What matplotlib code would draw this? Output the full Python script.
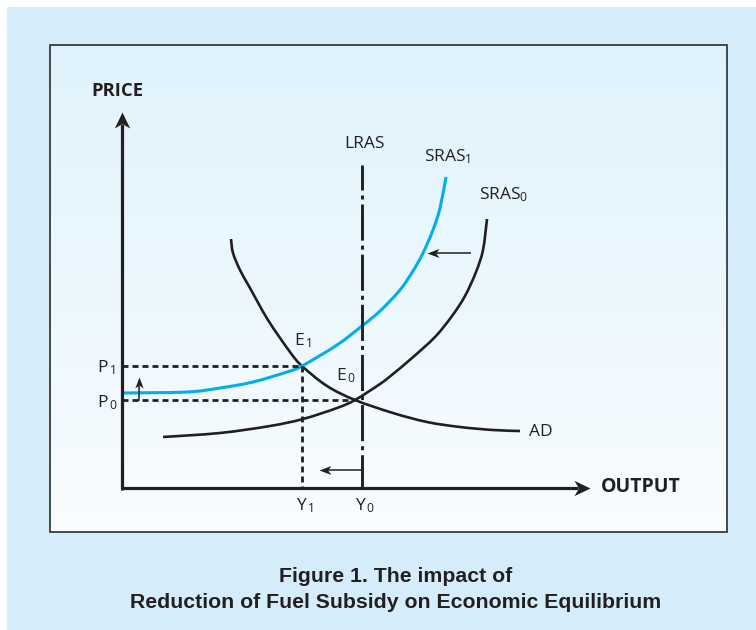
import numpy as np
import matplotlib
matplotlib.use("Agg")
import matplotlib.pyplot as plt
from matplotlib.patches import Rectangle, PathPatch
from matplotlib.path import Path

plt.rcParams['font.family'] = ['Open Sans', 'DejaVu Sans']
plt.rcParams['mathtext.fontset'] = 'custom'
plt.rcParams['mathtext.rm'] = 'Open Sans'
plt.rcParams['mathtext.it'] = 'Open Sans'
plt.rcParams['lines.scale_dashes'] = False

# ---- data (output on x, price on y; schematic units) ----
sras1_x = [0, 65, 98, 131, 165, 180, 215, 240, 258, 278, 291, 301, 311, 318, 324]
sras1_y = [95, 96, 100, 106, 116, 122, 143, 162, 177, 198, 217, 235, 258, 280, 311]

sras0_x = [41, 98, 148, 181, 215, 233, 258, 271, 290, 313, 330, 343, 354, 361, 365]
sras0_y = [51, 55, 62, 69, 80, 88, 104, 114, 130, 151, 172, 192, 216, 238, 269]

ad_x = [109, 111, 118, 128, 146, 168, 180, 205, 233, 271, 305, 338, 371, 398]
ad_y = [249, 235, 218, 200, 168, 136, 122, 102, 88, 75, 66, 61, 58, 57]

lras_x = 240
lras_top = 323
E1 = (180, 122)
E0 = (233, 88)
P1 = 122
P0 = 88
Y1 = 180
Y0 = 240

XMAX, YMAX = 468, 376

BLACK = '#231f20'
BLUE = '#00aeef'


def smooth_path(xs, ys):
    """Catmull-Rom curve through the points, drawn as cubic Bezier segments."""
    pts = np.column_stack([xs, ys]).astype(float)
    n = len(pts)
    verts = [pts[0]]
    codes = [Path.MOVETO]
    for i in range(n - 1):
        p0 = pts[i - 1] if i > 0 else pts[i]
        p1 = pts[i]
        p2 = pts[i + 1]
        p3 = pts[i + 2] if i + 2 < n else pts[i + 1]
        c1 = p1 + (p2 - p0) / 6.0
        c2 = p2 - (p3 - p1) / 6.0
        verts += [c1, c2, p2]
        codes += [Path.CURVE4] * 3
    return Path(verts, codes)


fig = plt.figure(figsize=(7.56, 6.3), dpi=100)
fig.patch.set_facecolor('white')

# background
bg = fig.add_axes([0, 0, 1, 1])
bg.axis('off')
bg.add_patch(Rectangle((7, 7), 760, 630, facecolor='#d5edfa', edgecolor='none'))
grad = np.linspace(0, 1, 256).reshape(-1, 1)
top = np.array([0.875, 0.951, 0.988])
bot = np.array([0.975, 0.990, 1.0])
img = top[None, None, :] * (1 - grad[:, :, None]) + bot[None, None, :] * grad[:, :, None]
bg.imshow(img, extent=[50, 727, 532, 45], aspect='auto', zorder=1)
bg.add_patch(Rectangle((50, 45), 677, 487, facecolor='none', edgecolor='#3a3a3a', lw=1.3, zorder=2))
bg.set_xlim(0, 756)
bg.set_ylim(630, 0)

# chart axes
ax = fig.add_axes([122 / 756, (630 - 488) / 630, XMAX / 756, YMAX / 630])
ax.set_xlim(0, XMAX)
ax.set_ylim(0, YMAX)
ax.axis('off')
ax.patch.set_alpha(0)


def head_marker(direction, hw, notch):
    base = np.array([(0, 0), (-1, hw), (-notch, 0), (-1, -hw), (0, 0)])
    rot = {'right': 0, 'up': 90, 'left': 180}[direction]
    t = np.deg2rad(rot)
    R = np.array([[np.cos(t), -np.sin(t)], [np.sin(t), np.cos(t)]])
    v = base @ R.T
    codes = [Path.MOVETO, Path.LINETO, Path.LINETO, Path.LINETO, Path.CLOSEPOLY]
    return Path(v, codes)


def arrow(tail, tip, direction, lw, head_len, hw, notch=0.72):
    # head_len in pixels (1 data unit == 1 px)
    d = {'right': (1, 0), 'up': (0, 1), 'left': (-1, 0)}[direction]
    back = notch * head_len
    end = (tip[0] - d[0] * back, tip[1] - d[1] * back)
    ax.plot([tail[0], end[0]], [tail[1], end[1]], color=BLACK, lw=lw,
            solid_capstyle='butt', clip_on=False)
    ax.plot([tip[0]], [tip[1]], marker=head_marker(direction, hw, notch),
            markersize=1.44 * head_len, color=BLACK, markeredgewidth=0, clip_on=False)


# axes with arrows
arrow((0, -1.5), (0, YMAX), 'up', 2.3, 16, 0.48)
arrow((-1.5, 0), (XMAX, 0), 'right', 2.3, 16, 0.48)

# dashed guides
dash = (0, (4.3, 2.9))
ax.plot([0, E1[0]], [P1, P1], color=BLACK, lw=2.0, linestyle=dash, clip_on=False)
ax.plot([0, E0[0]], [P0, P0], color=BLACK, lw=2.0, linestyle=dash, clip_on=False)
ax.plot([Y1, Y1], [E1[1], 0], color=BLACK, lw=2.0, linestyle=dash, clip_on=False)

# LRAS dash-dot
ax.plot([lras_x, lras_x], [lras_top, 0], color=BLACK, lw=2.1,
        linestyle=(8, (26, 3.6, 2.9, 3.6)), clip_on=False)

# curves
for xs, ys, col, lw in [(ad_x, ad_y, BLACK, 1.9), (sras0_x, sras0_y, BLACK, 1.9),
                        (sras1_x, sras1_y, BLUE, 2.2)]:
    ax.add_patch(PathPatch(smooth_path(xs, ys), facecolor='none', edgecolor=col,
                           lw=lw, capstyle='butt', clip_on=False))

# shift arrows
arrow((349, 235), (305, 235), 'left', 1.1, 12, 0.38)
arrow((17, 87), (17, 111), 'up', 1.1, 11, 0.38)
arrow((240, 18), (197, 18), 'left', 1.1, 12, 0.38)

# labels
fs = 12.5
ax.text(-5, 397, 'PRICE', ha='center', va='center', fontsize=13.3, fontweight='bold', color=BLACK, clip_on=False)
ax.text(479, 1, 'OUTPUT', ha='left', va='center', fontsize=14, fontweight='bold', color=BLACK, clip_on=False)
ax.text(243, 344, 'LRAS', ha='center', va='center', fontsize=12.5, color=BLACK, clip_on=False)
ax.text(302, 331, r'SRAS$_{\mathrm{1}}$', ha='left', va='center', fontsize=fs, color=BLACK, clip_on=False)
ax.text(357, 293, r'SRAS$_{\mathrm{0}}$', ha='left', va='center', fontsize=fs, color=BLACK, clip_on=False)
ax.text(407, 56, 'AD', ha='left', va='center', fontsize=fs, color=BLACK, clip_on=False)
ax.text(172, 147, r'E$_{\,\mathrm{1}}$', ha='left', va='center', fontsize=fs, color=BLACK, clip_on=False)
ax.text(214, 112, r'E$_{\,\mathrm{0}}$', ha='left', va='center', fontsize=fs, color=BLACK, clip_on=False)
ax.text(-25, 120, r'P$_{\,\mathrm{1}}$', ha='left', va='center', fontsize=fs, color=BLACK, clip_on=False)
ax.text(-25, 85, r'P$_{\,\mathrm{0}}$', ha='left', va='center', fontsize=fs, color=BLACK, clip_on=False)
ax.text(Y1 + 3, -18, r'Y$_{\,\mathrm{1}}$', ha='center', va='center', fontsize=fs, color=BLACK, clip_on=False)
ax.text(Y0 + 3, -18, r'Y$_{\,\mathrm{0}}$', ha='center', va='center', fontsize=fs, color=BLACK, clip_on=False)

# caption
fig.text(396 / 756, 1 - 576 / 630, 'Figure 1. The impact of', ha='center', va='center',
         family='Liberation Sans', fontweight='bold', fontsize=15.3, color=BLACK)
fig.text(396 / 756, 1 - 603 / 630, 'Reduction of Fuel Subsidy on Economic Equilibrium', ha='center', va='center',
         family='Liberation Sans', fontweight='bold', fontsize=15.3, color=BLACK)

fig.savefig('out.png', dpi=100)
